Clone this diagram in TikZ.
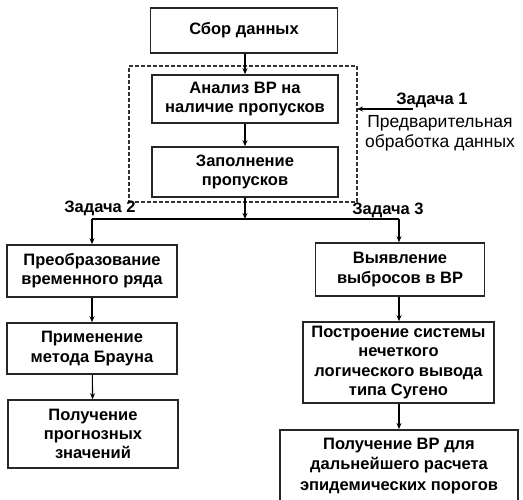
\documentclass[tikz,border=0pt]{standalone}
\usepackage{fontspec}
\setmainfont{Liberation Sans}
\usetikzlibrary{arrows.meta}
\begin{document}
\begin{tikzpicture}[x=1pt,y=-1pt,
  box/.style={draw=black!85, line width=1.6pt, fill=white, align=center, inner sep=0pt,
    font=\bfseries\fontsize{16.5}{19.3}\selectfont},
  arr/.style={line width=1.1pt, -{Stealth[length=6pt,width=5pt]}},
  ln/.style={line width=1.1pt},
  lbl/.style={font=\bfseries\fontsize{16.5}{19}\selectfont, inner sep=0pt}]
\useasboundingbox (0,0) rectangle (523,500);
% dashed frame
\node[draw=black!80, dashed, line width=1.2pt, dash pattern=on 4pt off 2pt,
  minimum width=228pt, minimum height=136pt, inner sep=0pt] (frame) at (243,134) {};
% boxes
\node[box, minimum width=187pt, minimum height=45pt] (sbor) at (244,30.5) {Сбор данных};
\node[box, minimum width=186pt, minimum height=48pt] (analiz) at (245,99) {Анализ ВР на\\наличие пропусков};
\node[box, minimum width=186pt, minimum height=50pt] (zapoln) at (245,172) {Заполнение\\пропусков};
\node[box, minimum width=170pt, minimum height=52pt] (preobr) at (92,271) {Преобразование\\временного ряда};
\node[box, minimum width=170pt, minimum height=51pt] (primen) at (92,348.5) {Применение\\метода Брауна};
\node[box, minimum width=170pt, minimum height=68pt] (prog) at (93,434) {Получение\\прогнозных\\значений};
\node[box, minimum width=169pt, minimum height=53pt] (vyyav) at (400,269.5) {Выявление\\выбросов в ВР};
\node[box, minimum width=191pt, minimum height=81pt] (postr) at (398.5,362.5) {Построение системы\\нечеткого\\логического вывода\\типа Сугено};
\node[box, minimum width=238pt, minimum height=80pt, anchor=north] (vr) at (399,429) {};
\node[font=\bfseries\fontsize{16.5}{20.5}\selectfont, align=center, inner sep=0pt] (vrtext) at (399,466) {Получение ВР для\\дальнейшего расчета\\эпидемических порогов};
% labels
\node[lbl] (z1) at (432,100) {Задача 1};
\node[font=\fontsize{17.5}{19.5}\selectfont, align=center, inner sep=0pt] (pred) at (440,133.5) {Предварительная\\обработка данных};
\node[lbl] (z2) at (100,208) {Задача 2};
\node[lbl] (z3) at (388,210) {Задача 3};
\coordinate (z1s) at (413,109);
\coordinate (z1e) at (357,109);
\coordinate (j) at (245,219);
\coordinate (jl) at (92,219);
\coordinate (jr) at (399,219);
% connectors
\draw[arr] (sbor.south -| analiz) -- (analiz.north);
\draw[arr] (analiz) -- (zapoln);
\draw[arr] (zapoln.south) -- (j);
\draw[ln] (jl) -- (jr);
\draw[arr] (jl) -- (preobr.north);
\draw[arr] (jr) -- (jr |- vyyav.north);
\draw[arr] (preobr) -- (primen);
\draw[arr] (primen) -- (prog);
\draw[arr] (vyyav.south -| jr) -- (jr |- postr.north);
\draw[arr] (postr.south -| jr) -- (vr.north);
\draw[arr] (z1s) -- (z1e);
\end{tikzpicture}
\end{document}
